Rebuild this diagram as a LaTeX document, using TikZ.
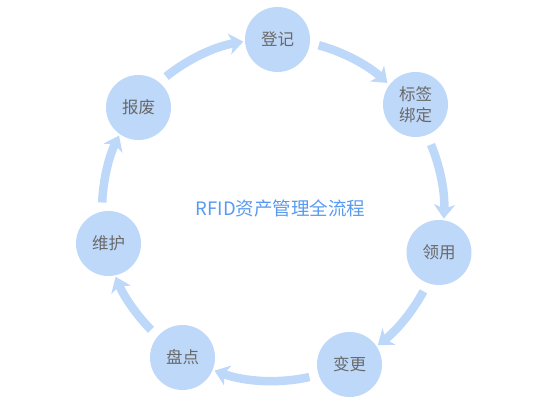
\documentclass[tikz,border=0pt]{standalone}
\usepackage{fontspec}
\setmainfont{Noto Sans CJK SC}
\usetikzlibrary{arrows.meta}
\definecolor{ringblue}{RGB}{190,216,250}
\definecolor{labelgray}{RGB}{105,105,105}
\definecolor{titleblue}{RGB}{88,154,242}
\tikzset{
  stage/.style={circle, fill=ringblue, minimum size=65pt, inner sep=0pt,
    text=labelgray, font=\fontsize{16.5}{21}\selectfont, align=center},
  flow/.style={draw=ringblue, line width=8.5pt,
    -{Stealth[length=14pt, width=21pt, inset=4pt]}}
}
\begin{document}
\begin{tikzpicture}[x=1pt,y=1pt]
\useasboundingbox (0,0) rectangle (553,419);
\coordinate (c) at (273,209);
\node[stage] (n1) at (277.5,379.5) {登记};
\node[stage] (n2) at (415.5,314.5) {标签\\绑定};
\node[stage] (n3) at (439,166.5) {领用};
\node[stage] (n4) at (349.5,54.5) {变更};
\node[stage] (n5) at (182.5,61.5) {盘点};
\node[stage] (n6) at (108.5,175.5) {维护};
\node[stage] (n7) at (138.5,311.5) {报废};
\node[text=titleblue, font=\fontsize{18.5}{22}\selectfont] (title) at (280.5,210.5) {RFID资产管理全流程};
\foreach \a/\b in {74.5/48, 22.5/-2.9, -28.4/-52.2, -77.7/-110, -135.5/-157, 177.5/154.2, 128.7/100}{
  \draw[flow] ([shift={(\a:171)}]c) arc[start angle=\a, end angle=\b, radius=171];
}
\end{tikzpicture}
\end{document}
